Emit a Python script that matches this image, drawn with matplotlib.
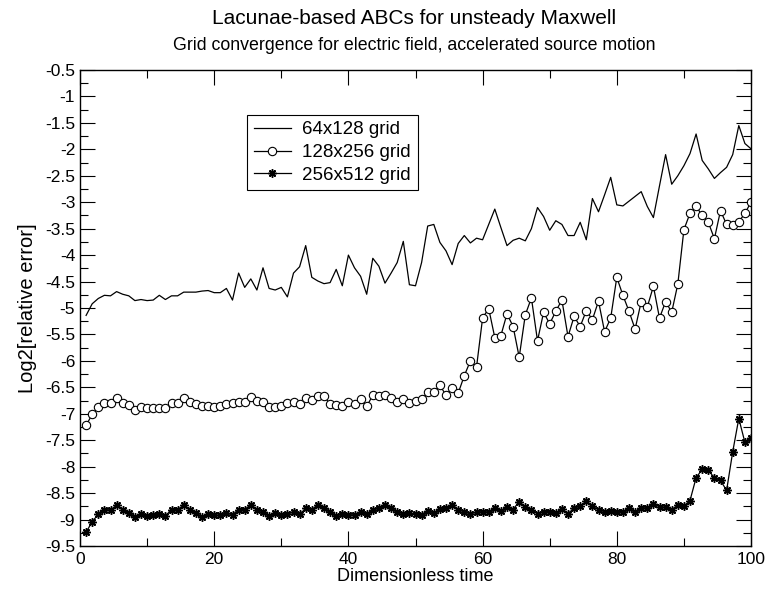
import numpy as np
import matplotlib
matplotlib.use('Agg')
import matplotlib.pyplot as plt
from matplotlib.ticker import MultipleLocator, FormatStrFormatter

plt.rcParams['font.family'] = ['Liberation Sans', 'DejaVu Sans']

# pas de temps : 110 échantillons sur [0, 100]
time = np.arange(1, 111) * 100 / 110

# 64x128
err_64 = [-5.14, -4.92, -4.82, -4.76, -4.77, -4.69, -4.74, -4.77, -4.86, -4.84,
          -4.86, -4.85, -4.76, -4.84, -4.77, -4.77, -4.70, -4.70, -4.70, -4.68,
          -4.67, -4.71, -4.71, -4.63, -4.85, -4.34, -4.61, -4.45, -4.66, -4.24,
          -4.63, -4.66, -4.61, -4.79, -4.34, -4.22, -3.82, -4.42, -4.49, -4.54,
          -4.52, -4.27, -4.58, -4.00, -4.24, -4.40, -4.74, -4.06, -4.21, -4.53,
          -4.34, -4.14, -3.74, -4.56, -4.58, -4.14, -3.45, -3.42, -3.76, -3.92,
          -4.18, -3.78, -3.63, -3.77, -3.68, -3.71, -3.42, -3.13, -3.48, -3.82,
          -3.72, -3.68, -3.73, -3.50, -3.10, -3.27, -3.53, -3.35, -3.42, -3.63,
          -3.63, -3.38, -3.71, -2.93, -3.18, -2.86, -2.53, -3.05, -3.07, -2.98,
          -2.89, -2.80, -3.08, -3.29, -2.69, -2.10, -2.66, -2.50, -2.31, -2.08,
          -1.71, -2.21, -2.37, -2.55, -2.44, -2.34, -2.10, -1.55, -1.89, -1.99]

# 128x256
err_128 = [-7.22, -7.01, -6.88, -6.80, -6.80, -6.71, -6.80, -6.84, -6.93, -6.88,
           -6.90, -6.90, -6.89, -6.89, -6.80, -6.80, -6.71, -6.77, -6.82, -6.85,
           -6.85, -6.88, -6.85, -6.82, -6.80, -6.77, -6.77, -6.69, -6.75, -6.77,
           -6.88, -6.88, -6.86, -6.80, -6.77, -6.82, -6.71, -6.74, -6.67, -6.67,
           -6.82, -6.83, -6.85, -6.78, -6.82, -6.73, -6.86, -6.65, -6.67, -6.64,
           -6.70, -6.78, -6.73, -6.80, -6.76, -6.73, -6.59, -6.59, -6.46, -6.65,
           -6.51, -6.61, -6.28, -6.00, -6.12, -5.19, -5.01, -5.56, -5.52, -5.11,
           -5.35, -5.93, -5.13, -4.81, -5.62, -5.08, -5.30, -5.06, -4.85, -5.54,
           -5.16, -5.35, -5.05, -5.22, -4.87, -5.45, -5.19, -4.42, -4.76, -5.06,
           -5.40, -4.88, -4.98, -4.59, -5.19, -4.88, -5.08, -4.55, -3.52, -3.21,
           -3.08, -3.25, -3.38, -3.69, -3.16, -3.42, -3.44, -3.37, -3.21, -3.00]

# 256x512
err_256 = [-9.24, -9.04, -8.90, -8.81, -8.82, -8.73, -8.82, -8.88, -8.95, -8.90,
           -8.94, -8.92, -8.90, -8.93, -8.81, -8.81, -8.73, -8.82, -8.88, -8.96,
           -8.90, -8.92, -8.92, -8.88, -8.91, -8.81, -8.81, -8.72, -8.81, -8.86,
           -8.93, -8.88, -8.92, -8.90, -8.85, -8.90, -8.79, -8.81, -8.72, -8.79,
           -8.86, -8.93, -8.90, -8.91, -8.91, -8.86, -8.90, -8.81, -8.79, -8.72,
           -8.79, -8.85, -8.90, -8.88, -8.90, -8.91, -8.83, -8.88, -8.80, -8.79,
           -8.72, -8.81, -8.85, -8.89, -8.86, -8.85, -8.86, -8.78, -8.83, -8.77,
           -8.81, -8.66, -8.77, -8.81, -8.89, -8.85, -8.85, -8.88, -8.80, -8.89,
           -8.78, -8.75, -8.65, -8.75, -8.81, -8.85, -8.83, -8.85, -8.85, -8.79,
           -8.85, -8.78, -8.78, -8.70, -8.76, -8.77, -8.81, -8.73, -8.75, -8.64,
           -8.21, -8.05, -8.07, -8.21, -8.26, -8.45, -7.72, -7.09, -7.54, -7.46]

labels = ['64x128 grid', '128x256 grid', '256x512 grid']

fig = plt.figure(figsize=(7.66, 5.89), dpi=100)
# cadre : x 80..751, y 70..546 (pixels)
ax = fig.add_axes([80 / 766, 1 - 546 / 589, 671 / 766, 476 / 589])

ax.plot(time, err_64, color='black', lw=0.9, label=labels[0])
ax.plot(time, err_128, color='black', lw=0.9, marker='o', ms=6,
        mfc='white', mec='black', mew=0.8, label=labels[1])
ax.plot(time, err_256, color='black', lw=0.9, marker=(8, 2, 0), ms=6,
        mec='black', mew=1.1, label=labels[2])

ax.set_xlim(0, 100)
ax.set_ylim(-9.5, -0.5)
ax.xaxis.set_major_locator(MultipleLocator(20))
ax.xaxis.set_minor_locator(MultipleLocator(10))
ax.yaxis.set_major_locator(MultipleLocator(0.5))
ax.yaxis.set_minor_locator(MultipleLocator(0.25))
ax.yaxis.set_major_formatter(FormatStrFormatter('%g'))
ax.tick_params(which='both', direction='in', top=True, right=True, labelsize=12.5)
ax.tick_params(which='major', length=11, width=0.8)
ax.tick_params(which='minor', length=6, width=0.8)
ax.tick_params(axis='x', pad=4)
for s in ax.spines.values():
    s.set_linewidth(1.0)

ax.set_xlabel('Dimensionless time', fontsize=13)
ax.xaxis.set_label_coords(0.5, -0.047)
ax.set_ylabel('Log2[relative error]', fontsize=14.5, labelpad=6)
fig.text(414 / 766, 1 - 18 / 589, 'Lacunae-based ABCs for unsteady Maxwell',
         ha='center', va='center', fontsize=15)
fig.text(414 / 766, 1 - 45 / 589, 'Grid convergence for electric field, accelerated source motion',
         ha='center', va='center', fontsize=12.8)

leg = ax.legend(loc='upper left', bbox_to_anchor=(0.249, 0.906), fontsize=13.5,
                frameon=True, fancybox=False, edgecolor='black', framealpha=1,
                handlelength=2.0, borderaxespad=0, borderpad=0.35, labelspacing=0.3,
                handletextpad=0.6)
leg.get_frame().set_linewidth(0.8)

plt.savefig('out.png', dpi=100)
